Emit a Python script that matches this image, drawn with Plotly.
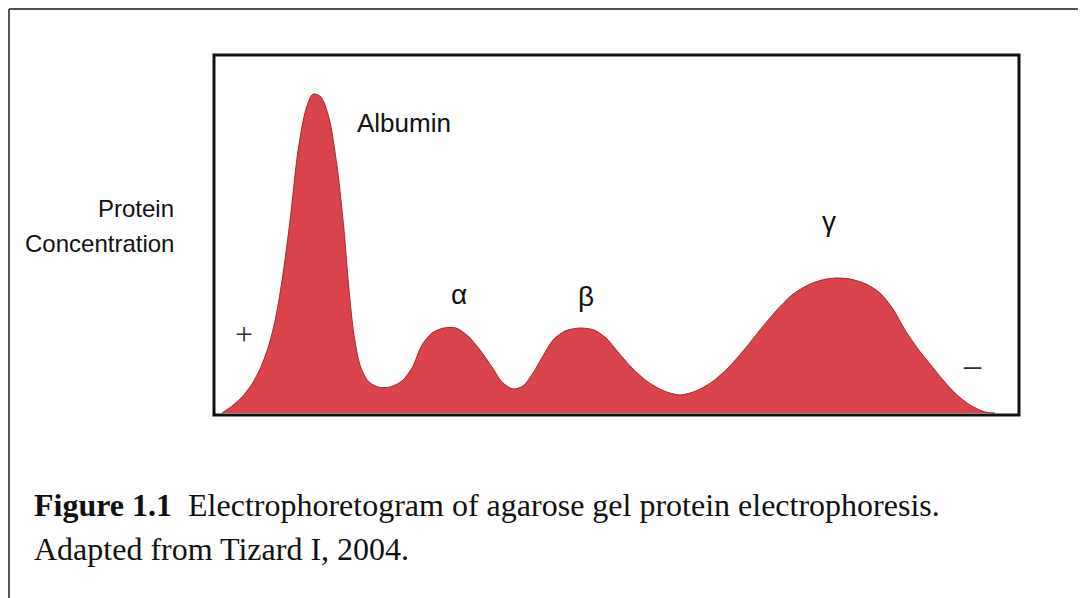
import plotly.graph_objects as go

W, H = 1086, 598
OFF = 8  # page body margin in the browser

# electrophoretogram trace (mobility, concentration)
mobility = [9, 19, 29, 39, 47, 55, 62, 69, 77, 85,
            93, 100, 108, 116, 124, 131, 136, 141, 147, 155,
            165, 177, 189, 199, 209, 219, 231, 243, 255, 267,
            279, 289, 300, 310, 320, 330, 340, 352, 367, 381,
            393, 405, 419, 435, 451, 467, 483, 499, 515, 531,
            547, 563, 579, 595, 609, 623, 637, 653, 667, 680,
            692, 705, 717, 730, 743, 757, 772, 782]
concentration = [0, 7, 16, 29, 44, 65, 92, 132, 192, 262,
                 304, 319, 316, 295, 247, 183, 123, 78, 48, 32,
                 26, 26, 32, 45, 68, 80, 85, 85, 77, 63,
                 46, 31, 24, 27, 40, 57, 73, 82, 85, 83,
                 75, 61, 45, 31, 22, 18, 22, 31, 45, 63,
                 83, 102, 118, 128, 133, 135, 134, 129, 120, 104,
                 83, 64, 49, 33, 19, 8, 1, 0]

peak_labels = ["Albumin", "α", "β", "γ"]
peak_pos = [(355, 123), (459, 294), (586, 296), (829, 221)]


def px(x):
    return (x - OFF) / W


def py(y):
    return 1 - (y - OFF) / H


fig = go.Figure()
fig.add_trace(go.Scatter(
    x=mobility, y=concentration, mode="lines", fill="tozeroy",
    line=dict(color="#9e2b30", width=1, shape="spline", smoothing=0.8),
    fillcolor="#d9434b", hoverinfo="skip", showlegend=False,
))

fig.update_xaxes(range=[1, 806], domain=[px(214), px(1019)], visible=False)
fig.update_yaxes(range=[-2, 358], domain=[py(415), py(55)], visible=False)

shapes = [
    dict(type="rect", xref="paper", yref="paper", x0=px(214), x1=px(1019),
         y0=py(415), y1=py(55), line=dict(color="#111", width=3)),
    dict(type="line", xref="paper", yref="paper", x0=px(9), x1=1.01,
         y0=py(9), y1=py(9), line=dict(color="#555", width=2)),
    dict(type="line", xref="paper", yref="paper", x0=px(9), x1=px(9),
         y0=py(9), y1=-0.01, line=dict(color="#555", width=2)),
]

sans = "Liberation Sans, Arial, sans-serif"
serif = "Liberation Serif, Times New Roman, serif"
ann = []
ann.append(dict(text=peak_labels[0], x=px(peak_pos[0][0]), y=py(peak_pos[0][1]),
                xanchor="left", yanchor="middle", font=dict(family=sans, size=26)))
for lab, (xx, yy) in zip(peak_labels[1:], peak_pos[1:]):
    ann.append(dict(text=lab, x=px(xx), y=py(yy), xanchor="center",
                    yanchor="middle", font=dict(family=sans, size=28)))
ann.append(dict(text="Protein", x=px(176), y=py(208),
                xanchor="right", yanchor="middle", font=dict(family=sans, size=24)))
ann.append(dict(text="Concentration", x=px(176), y=py(243),
                xanchor="right", yanchor="middle", font=dict(family=sans, size=24)))
ann.append(dict(text="+", x=px(244), y=py(334), xanchor="center",
                yanchor="middle", font=dict(family=serif, size=32, color="#333")))
ann.append(dict(text="–", x=px(972), y=py(364), xanchor="center",
                yanchor="middle", font=dict(family=serif, size=34, color="#333")))
ann.append(dict(text="<b>Figure 1.1</b>  Electrophoretogram of agarose gel protein electrophoresis.",
                x=px(32), y=py(505), xanchor="left", yanchor="middle",
                font=dict(family=serif, size=32, color="#111")))
ann.append(dict(text="Adapted from Tizard I, 2004.",
                x=px(32), y=py(549), xanchor="left", yanchor="middle",
                font=dict(family=serif, size=32, color="#111")))
for a in ann:
    a.update(xref="paper", yref="paper", showarrow=False)
    a["font"].setdefault("color", "#111")

fig.update_layout(
    width=W, height=H, margin=dict(l=0, r=0, t=0, b=0),
    paper_bgcolor="white", plot_bgcolor="white",
    shapes=shapes, annotations=ann,
)

fig.write_html("out.html")
